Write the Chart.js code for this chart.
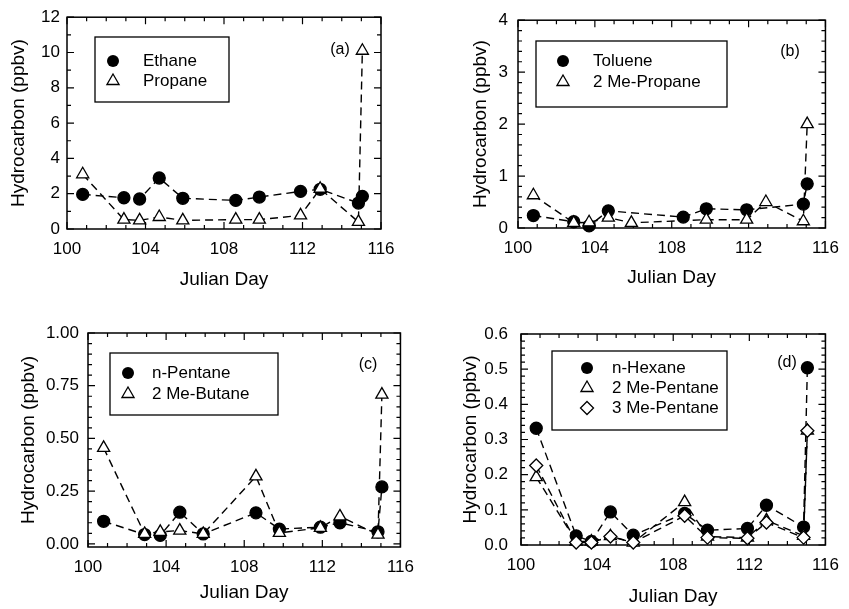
<!DOCTYPE html>
<html>
<head>
<meta charset="utf-8">
<script src="https://cdn.jsdelivr.net/npm/chart.js@4.4.1/dist/chart.umd.min.js"></script>
<style>
  body { margin: 0; background: #fff; }
  #wrap { position: relative; width: 849px; height: 609px; }
  canvas { position: absolute; }
</style>
</head>
<body>
<div id="wrap">
  <canvas id="chartA" width="424" height="300" style="left:0;top:0"></canvas>
  <canvas id="chartB" width="424" height="300" style="left:425px;top:0"></canvas>
  <canvas id="chartC" width="424" height="309" style="left:0;top:300px"></canvas>
  <canvas id="chartD" width="424" height="309" style="left:425px;top:300px"></canvas>
</div>
<script>
// sampling days (Julian day), shared by all four panels
const julianDays = [100.8, 102.9, 103.7, 104.7, 105.9, 108.6, 109.8, 111.9, 112.9, 114.85, 115.05];
const xTicks = [100, 104, 108, 112, 116];

// (a)
const ethane  = [1.96, 1.77, 1.70, 2.89, 1.74, 1.62, 1.81, 2.13, 2.25, 1.47, 1.85];
const propane = [3.10, 0.53, 0.49, 0.68, 0.49, 0.53, 0.53, 0.77, 2.28, 0.40, 10.1];
const yTicksA = [0, 2, 4, 6, 8, 10, 12];

// (b)
const toluene   = [0.24, 0.12, 0.04, 0.33, null, 0.21, 0.37, 0.35, null, 0.46, 0.85];
const mePropane = [0.63, 0.10, 0.11, 0.20, 0.10, null, 0.16, 0.16, 0.50, 0.13, 2.00];
const yTicksB = [0, 1, 2, 3, 4];

// (c)
const nPentane = [0.107, 0.044, 0.040, 0.150, 0.047, 0.147, 0.070, 0.079, 0.100, 0.057, 0.270];
const meButane = [0.455, 0.047, 0.057, 0.063, 0.047, 0.320, 0.052, 0.076, 0.130, 0.044, 0.708];
const yTicksC = [0, 0.25, 0.5, 0.75, 1.0];

// (d)
const nHexane     = [0.332, 0.026, 0.010, 0.094, 0.028, 0.090, 0.042, 0.047, 0.113, 0.051, 0.504];
const mePentane2  = [0.193, 0.010, 0.010, 0.025, 0.007, 0.122, 0.024, 0.021, 0.070, 0.026, 0.325];
const mePentane3  = [0.226, 0.007, 0.007, 0.024, 0.007, 0.083, 0.021, 0.019, 0.064, 0.021, 0.325];
const yTicksD = [0, 0.1, 0.2, 0.3, 0.4, 0.5, 0.6];

const INK = '#000';
Chart.defaults.font.family = "'Liberation Sans', Arial, Helvetica, sans-serif";
Chart.defaults.color = INK;

function drawMarker(ctx, style, x, y, r) {
  ctx.beginPath();
  if (style === 'circle') {
    ctx.arc(x, y, r, 0, Math.PI * 2);
    ctx.fillStyle = INK;
    ctx.fill();
    return;
  }
  if (style === 'triangle') {
    ctx.moveTo(x, y - r);
    ctx.lineTo(x + r * 0.866, y + r * 0.5);
    ctx.lineTo(x - r * 0.866, y + r * 0.5);
  } else {
    ctx.moveTo(x, y - r);
    ctx.lineTo(x + r, y);
    ctx.lineTo(x, y + r);
    ctx.lineTo(x - r, y);
  }
  ctx.closePath();
  ctx.fillStyle = '#fff';
  ctx.fill();
  ctx.stroke();
}

// box around the plot with inward ticks on all four sides
const framePlugin = {
  id: 'frame',
  beforeDatasetsDraw(chart, args, opts) {
    const {ctx, chartArea: a, scales: {x, y}} = chart;
    ctx.save();
    ctx.strokeStyle = INK;
    ctx.lineWidth = 1.5;
    ctx.strokeRect(a.left, a.top, a.right - a.left, a.bottom - a.top);
    ctx.lineWidth = 1.2;
    ctx.beginPath();
    const isMajor = (v, m) => Math.abs(v / m - Math.round(v / m)) < 1e-6;
    for (let i = 0; i <= 16; i++) {
      const v = 100 + i;
      const px = x.getPixelForValue(v);
      const len = isMajor(v, 4) ? 7 : 4;
      ctx.moveTo(px, a.bottom); ctx.lineTo(px, a.bottom - len);
      ctx.moveTo(px, a.top); ctx.lineTo(px, a.top + len);
    }
    const start = Math.ceil(y.min / opts.minor - 1e-6);
    const end = Math.floor(y.max / opts.minor + 1e-6);
    for (let i = start; i <= end; i++) {
      const v = i * opts.minor;
      const py = y.getPixelForValue(v);
      const len = isMajor(v, opts.major) ? 7 : 4;
      ctx.moveTo(a.left, py); ctx.lineTo(a.left + len, py);
      ctx.moveTo(a.right, py); ctx.lineTo(a.right - len, py);
    }
    ctx.stroke();
    ctx.restore();
  }
};

// boxed legend inside the plot plus the panel tag
const boxLegendPlugin = {
  id: 'boxLegend',
  afterDraw(chart, args, opts) {
    const {ctx} = chart;
    ctx.save();
    ctx.strokeStyle = INK;
    ctx.lineWidth = 1.3;
    ctx.fillStyle = '#fff';
    ctx.fillRect(opts.x, opts.y, opts.w, opts.h);
    ctx.strokeRect(opts.x, opts.y, opts.w, opts.h);
    ctx.font = "17px 'Liberation Sans', Arial, sans-serif";
    ctx.textBaseline = 'middle';
    chart.data.datasets.forEach((ds, i) => {
      const ry = opts.rows[i];
      ctx.lineWidth = 1.3;
      ctx.strokeStyle = INK;
      drawMarker(ctx, ds.pointStyle, opts.mx, ry, ds.pointRadius);
      ctx.fillStyle = INK;
      ctx.textAlign = 'left';
      ctx.fillText(ds.label, opts.tx, ry);
    });
    ctx.font = "16px 'Liberation Sans', Arial, sans-serif";
    ctx.textAlign = 'center';
    ctx.fillText(opts.tag, opts.tagX, opts.tagY);
    ctx.restore();
  }
};

const RADIUS = {circle: 6, triangle: 7, rectRot: 6.5};
const ORDER = {circle: 3, triangle: 2, rectRot: 1};

function makePanel(id, p) {
  return new Chart(id, {
    type: 'line',
    data: {
      datasets: p.series.map(s => ({
        label: s.label,
        data: julianDays.map((d, k) => ({x: d, y: s.values[k]})),
        borderColor: INK,
        borderWidth: 1.4,
        borderDash: [8, 5],
        pointStyle: s.style,
        pointRadius: RADIUS[s.style],
        pointBorderWidth: 1.3,
        pointBorderColor: INK,
        pointBackgroundColor: s.style === 'circle' ? INK : '#fff',
        spanGaps: true,
        clip: false,
        tension: 0,
        order: ORDER[s.style]
      }))
    },
    options: {
      responsive: false,
      animation: false,
      layout: {padding: {left: p.padLeft, top: p.padTop, right: p.padRight, bottom: 0}},
      plugins: {
        legend: {display: false},
        tooltip: {enabled: false},
        frame: {minor: p.yMinor, major: p.yMajor},
        boxLegend: p.legend
      },
      scales: {
        x: {
          type: 'linear',
          min: 100,
          max: 116,
          grid: {display: false, drawTicks: false},
          border: {display: false},
          afterBuildTicks: s => { s.ticks = xTicks.map(v => ({value: v})); },
          afterFit: s => { s.height = p.xHeight; },
          ticks: {autoSkip: false, maxRotation: 0, padding: 10, font: {size: 17}},
          title: {display: true, text: 'Julian Day', font: {size: 19}, padding: {top: 0, bottom: p.xTitlePad}}
        },
        y: {
          min: p.yMin,
          max: p.yMax,
          grid: {display: false, drawTicks: false},
          border: {display: false},
          afterBuildTicks: s => { s.ticks = p.yTicks.map(v => ({value: v})); },
          afterFit: s => { s.width = p.yWidth; },
          ticks: {
            autoSkip: false,
            padding: p.yTickPad,
            font: {size: 17},
            callback: v => v.toFixed(p.dec)
          },
          title: {display: true, text: 'Hydrocarbon (ppbv)', font: {size: 19}, padding: {top: 0, bottom: 0}}
        }
      }
    },
    plugins: [framePlugin, boxLegendPlugin]
  });
}

makePanel('chartA', {
  series: [
    {label: 'Ethane', values: ethane, style: 'circle'},
    {label: 'Propane', values: propane, style: 'triangle'}
  ],
  yTicks: yTicksA, yMin: 0, yMax: 12, yMinor: 1, yMajor: 2, dec: 0,
  padLeft: 7, yWidth: 60, padTop: 17, padRight: 43, xHeight: 71, xTitlePad: 9, yTickPad: 7,
  legend: {x: 95, y: 37, w: 134, h: 65, rows: [61, 81], mx: 113, tx: 143, tag: '(a)', tagX: 340, tagY: 50}
});

makePanel('chartB', {
  series: [
    {label: 'Toluene', values: toluene, style: 'circle'},
    {label: '2 Me-Propane', values: mePropane, style: 'triangle'}
  ],
  yTicks: yTicksB, yMin: 0, yMax: 4, yMinor: 0.2, yMajor: 1, dec: 0,
  padLeft: 44, yWidth: 49, padTop: 17, padRight: 20, xHeight: 72, xTitlePad: 11, yTickPad: 10,
  legend: {x: 111, y: 41, w: 191, h: 66, rows: [61, 82], mx: 138, tx: 168, tag: '(b)', tagX: 365, tagY: 52}
});

makePanel('chartC', {
  series: [
    {label: 'n-Pentane', values: nPentane, style: 'circle'},
    {label: '2 Me-Butane', values: meButane, style: 'triangle'}
  ],
  yTicks: yTicksC, yMin: -0.015, yMax: 1.0, yMinor: 0.05, yMajor: 0.25, dec: 2,
  padLeft: 17, yWidth: 71, padTop: 33, padRight: 22, xHeight: 62, xTitlePad: 5, yTickPad: 9,
  legend: {x: 110, y: 53, w: 168, h: 62, rows: [73, 94], mx: 128, tx: 152, tag: '(c)', tagX: 368, tagY: 65}
});

makePanel('chartD', {
  series: [
    {label: 'n-Hexane', values: nHexane, style: 'circle'},
    {label: '2 Me-Pentane', values: mePentane2, style: 'triangle'},
    {label: '3 Me-Pentane', values: mePentane3, style: 'rectRot'}
  ],
  yTicks: yTicksD, yMin: 0, yMax: 0.6, yMinor: 0.02, yMajor: 0.1, dec: 1,
  padLeft: 34, yWidth: 62, padTop: 34, padRight: 17, xHeight: 64, xTitlePad: 1, yTickPad: 13,
  legend: {x: 127, y: 51, w: 175, h: 79, rows: [68, 88, 108], mx: 162, tx: 187, tag: '(d)', tagX: 362, tagY: 63}
});
</script>
</body>
</html>
